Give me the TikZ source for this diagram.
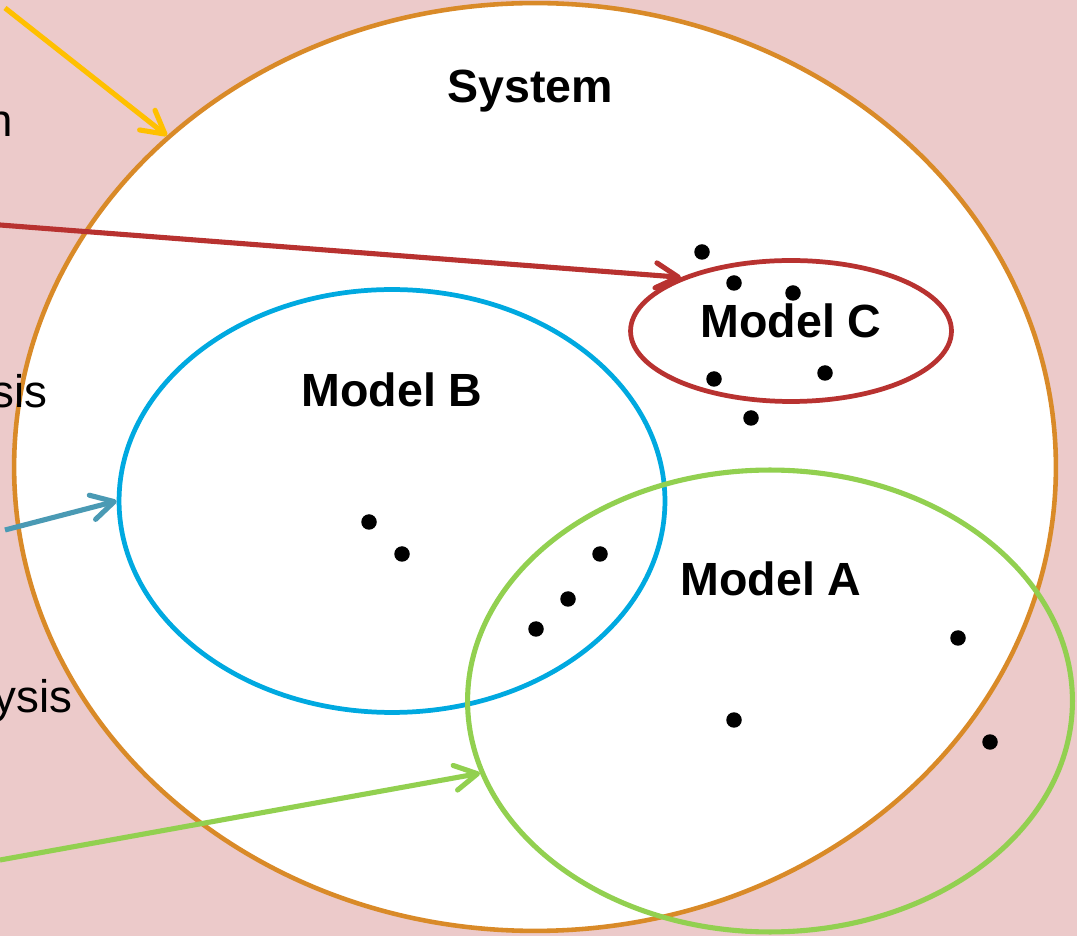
\documentclass[tikz,border=0pt]{standalone}
\usepackage{fontspec}
\setmainfont{Liberation Sans}
\usetikzlibrary{shapes.geometric,arrows.meta}
\definecolor{bgpink}{HTML}{ECCACA}
\definecolor{sysorange}{HTML}{D98A28}
\definecolor{modblue}{HTML}{00A9E0}
\definecolor{modgreen}{HTML}{92D050}
\definecolor{modred}{HTML}{B83230}
\definecolor{arryellow}{HTML}{FFC000}
\definecolor{arrteal}{HTML}{4A9AB4}
\begin{document}
\begin{tikzpicture}
      [x=0.02cm,y=0.02cm,
       model/.style={ellipse,draw,line width=2.7pt,inner sep=0pt},
       dot/.style={circle,fill=black,inner sep=0pt,minimum size=0.31cm},
       tag/.style={anchor=base,inner sep=0pt,font=\fontsize{26.5}{30}\selectfont\bfseries},
       fragment/.style={anchor=base east,inner sep=0pt,font=\fontsize{26}{30}\selectfont},
       pointer/.style={line width=2.9pt,-{Straight Barb[length=0.45cm,width=0.5cm,round]}}]
      \useasboundingbox (0,0) rectangle (1077,936);
      \fill [bgpink] (0,0) rectangle (1077,936);
      \node at (535,469) (system) [model,draw=sysorange,fill=white,line width=2.6pt,
        minimum width=20.84cm,minimum height=18.56cm] {};
      \node at (392,435) (modelB) [model,draw=modblue,
        minimum width=10.92cm,minimum height=8.46cm] {};
      \node at (770,235) (modelA) [model,draw=modgreen,line width=2.9pt,
        minimum width=12.1cm,minimum height=9.24cm] {};
      \node at (791,605) (modelC) [model,draw=modred,
        minimum width=6.42cm,minimum height=2.82cm] {};
      % points
      \foreach \px/\py [count=\i] in {702/684,734/653,793/643,714/557,825/563,751/518,
          369/414,402/382,600/382,568/337,536/307,958/298,734/216,990/194}
        \node at (\px,\py) (dot\i) [dot] {};
      % arrows from the left
      \coordinate (yellowstart) at (5,928);
      \coordinate (redstart) at (0,711);
      \coordinate (tealstart) at (5,406);
      \coordinate (greenstart) at (0,76);
      \draw [pointer,draw=arryellow] (yellowstart) -- (system.138);
      \draw [pointer,draw=modred] (redstart) -- (modelC.154);
      \draw [pointer,draw=arrteal] (tealstart) -- (modelB.west);
      \draw [pointer,draw=modgreen] (greenstart) -- (modelA.194);
      % labels
      \node at (530,833) (systemlabel) [tag] {System};
      \node at (392,529) (modelBlabel) [tag] {Model B};
      \node at (771,340) (modelAlabel) [tag] {Model A};
      \node at (791,598) (modelClabel) [tag] {Model C};
      \node at (13,799) (textone) [fragment] {n};
      \node at (48,528) (texttwo) [fragment] {sis};
      \node at (73,223) (textthree) [fragment] {ysis};
\end{tikzpicture}
\end{document}
